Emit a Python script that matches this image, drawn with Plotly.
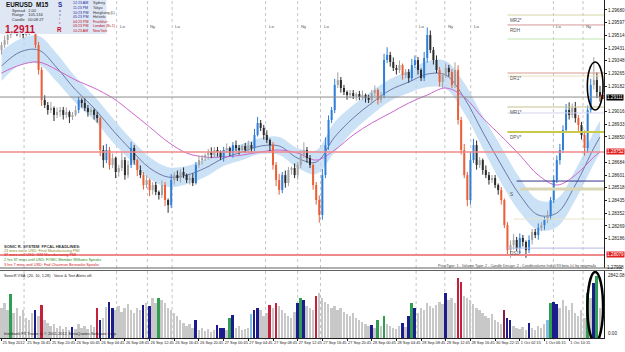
import plotly.graph_objects as go

# ---------------- DATA ----------------
closes = [1.29451,1.29484,1.29516,1.29549,1.29562,1.29529,1.29549,1.29516,1.29536,1.29582,
 1.29562,1.29451,1.29288,1.29092,1.29059,1.29026,1.29039,1.28994,1.29013,1.29026,
 1.28994,1.29013,1.28981,1.28994,1.29026,1.29092,1.29072,1.29039,1.29013,1.29026,
 1.28994,1.28974,1.28765,1.28699,1.28765,1.28667,1.28712,1.28621,1.28647,1.28699,
 1.28601,1.28667,1.28778,1.28699,1.28634,1.28601,1.28536,1.28569,1.28503,1.28536,
 1.28490,1.28471,1.28536,1.28438,1.28405,1.28569,1.28601,1.28582,1.28621,1.28601,
 1.28569,1.28582,1.28549,1.28667,1.28699,1.28712,1.28732,1.28752,1.28732,1.28765,
 1.28752,1.28719,1.28765,1.28778,1.28745,1.28797,1.28778,1.28765,1.28791,1.28765,
 1.28797,1.28778,1.28863,1.28941,1.28909,1.28863,1.28830,1.28797,1.28667,1.28569,
 1.28503,1.28601,1.28549,1.28634,1.28647,1.28601,1.28667,1.28732,1.28765,1.28712,
 1.28667,1.28536,1.28438,1.28340,1.28601,1.28797,1.28961,1.29026,1.29190,1.29222,
 1.29170,1.29144,1.29124,1.29137,1.29118,1.29131,1.29111,1.29124,1.29105,1.29092,
 1.29137,1.29157,1.29092,1.29124,1.29353,1.29386,1.29340,1.29301,1.29288,1.29320,
 1.29255,1.29274,1.29235,1.29320,1.29353,1.29288,1.29235,1.29366,1.29516,1.29418,
 1.29353,1.29288,1.29209,1.29255,1.29301,1.29274,1.29190,1.29288,1.28961,1.28765,
 1.28601,1.28438,1.28699,1.28797,1.28667,1.28699,1.28634,1.28601,1.28569,1.28582,
 1.28536,1.28503,1.28438,1.28274,1.28111,1.28144,1.28177,1.28124,1.28190,1.28164,
 1.28111,1.28177,1.28229,1.28209,1.28255,1.28274,1.28307,1.28340,1.28438,1.28569,
 1.28699,1.28765,1.28896,1.29026,1.28994,1.29039,1.28974,1.28928,1.28863,1.28778,
 1.29026,1.29190,1.29222,1.29144,1.29111]
first_open = 1.29418

wick_up_pips = [2,3,2,1,3,6,2,3,2,4,3,1,2,2,3,2,4,1,3,2,
 2,3,1,2,3,2,1,3,2,2,1,2,1,3,4,2,3,1,2,5,
 2,3,4,2,1,3,2,3,1,2,2,1,3,2,1,4,2,3,2,3,
 1,2,3,2,3,2,1,2,3,2,2,1,2,3,1,2,3,2,1,2,
 3,2,4,4,2,2,3,1,2,2,4,2,3,2,1,3,2,3,5,2,
 2,1,2,3,4,5,3,2,4,5,2,2,1,2,2,1,2,3,1,2,
 2,3,1,2,4,5,2,3,2,3,1,2,2,4,3,2,1,4,5,3,
 2,3,2,1,3,2,2,5,3,2,4,2,5,4,3,2,1,3,2,2,
 2,1,2,1,2,3,4,2,3,2,1,3,2,2,3,2,2,3,2,3,
 3,4,3,4,5,3,4,2,2,3,3,4,15,5,4]
wick_dn_pips = [3,2,3,2,1,2,3,2,1,2,3,2,3,4,2,3,2,4,2,3,
 3,2,4,2,1,2,3,2,3,2,3,3,4,5,2,3,2,4,3,2,
 3,2,2,3,4,2,3,2,4,3,2,3,2,4,5,2,3,2,3,2,
 2,3,2,1,2,3,2,3,2,2,3,2,3,2,2,3,2,3,2,2,
 2,3,2,1,2,3,2,4,3,4,3,2,3,2,3,2,3,2,2,3,
 2,3,3,5,3,2,3,2,2,2,3,2,3,2,2,3,2,2,3,2,
 3,2,3,2,2,2,3,2,3,2,3,2,3,2,2,3,2,2,3,2,
 3,2,3,4,2,3,2,2,3,3,2,4,3,2,3,2,3,2,3,2,
 2,3,3,2,3,5,3,2,4,3,5,2,3,2,3,2,3,2,3,2,
 2,3,2,2,3,2,3,4,3,5,3,2,3,4,3]

high_volume_bars = [9,11,12,13,25,32,34,35,42,44,46,48,53,55,63,72,75,82,83,88,89,90,91,
 101,102,103,104,105,106,107,108,122,124,125,130,133,134,137,138,142,146,148,149,150,
 151,152,153,162,163,164,168,171,174,176,178,179,180,181,182,183,187,189,190,191]

volumes = [1272,1484,1187,1866,1060,1272,933,1187,848,763,
 1060,1187,933,1399,763,636,509,594,424,509,
 382,466,339,466,382,594,424,509,382,551,
 466,1272,763,848,1314,1526,1272,1187,1357,1102,
 1272,1442,1187,1060,1272,1187,1399,1484,1357,1696,
 1484,1696,1611,1484,1272,1187,1060,933,763,636,
 509,594,424,763,339,424,297,382,254,339,
 551,424,424,339,848,975,424,509,339,382,
 424,1018,1187,1272,1187,933,1060,1399,1272,1484,
 1357,1187,1060,933,848,1102,1484,1696,1611,1357,
 1272,1187,1781,1908,1696,1526,1442,1272,1357,1187,
 1272,1102,1018,933,1060,848,763,678,594,509,
 551,424,763,509,933,594,509,424,382,509,
 636,466,933,1484,1272,1060,1272,1187,1484,1357,
 1272,1399,1526,1442,1908,1611,1696,1484,2544,2374,
 1781,1696,1611,1442,1272,1187,1060,933,848,1018,
 763,678,594,1187,848,763,509,424,382,466,
 339,636,424,339,509,424,594,763,1484,1526,
 1442,1272,1611,1357,1187,1484,1060,933,1187,848,
 1908,1696,2332,2629,1272]
volume_signal = {3:'g',11:'n',13:'r',23:'n',31:'r',32:'n',35:'n',36:'n',46:'n',48:'n',51:'g',
 63:'n',70:'n',71:'n',72:'n',74:'g',75:'n',81:'t',82:'n',83:'n',87:'r',89:'r',96:'n',
 97:'g',98:'n',102:'r',120:'n',122:'g',124:'g',130:'n',132:'n',133:'g',134:'n',144:'n',
 148:'r',149:'r',163:'m',164:'n',165:'n',171:'n',177:'t',178:'g',179:'n',180:'n',
 190:'g',192:'n',193:'g'}
volume_max = 2842.08

# moving averages, sampled at bar indices
ma_bars = [0,6,12,18,24,30,36,42,48,54,60,66,72,78,84,90,96,102,108,114,120,126,
 132,138,144,150,156,162,168,174,180,186,192,194]
ema34_close = [1.29314,1.29405,1.29418,1.29301,1.29157,1.29039,1.28896,1.28765,1.28647,
 1.28588,1.28601,1.28647,1.28712,1.28752,1.28791,1.28791,1.28712,1.28686,1.28850,
 1.28974,1.29072,1.29157,1.29209,1.29261,1.29255,1.29105,1.28882,1.28667,1.28471,
 1.28340,1.28353,1.28536,1.28778,1.28850]
band_halfwidth = [0.00098,0.00085,0.00092,0.00092,0.00085,0.00078,0.00078,0.00072,0.00072,
 0.00065,0.00059,0.00059,0.00052,0.00052,0.00052,0.00059,0.00065,0.00078,0.00098,
 0.00085,0.00078,0.00072,0.00072,0.00085,0.00092,0.00098,0.00105,0.00118,0.00111,
 0.00098,0.00092,0.00098,0.00105,0.00105]
ema89_close = [1.29268,1.29320,1.29340,1.29288,1.29222,1.29170,1.29105,1.29013,1.28915,
 1.28817,1.28745,1.28719,1.28719,1.28732,1.28752,1.28765,1.28745,1.28699,1.28765,
 1.28863,1.28941,1.29006,1.29072,1.29124,1.29170,1.29111,1.28974,1.28856,1.28732,
 1.28601,1.28536,1.28601,1.28719,1.28752]

# horizontal levels
full_levels = {"price_line": 1.29111, "level_red_1": 1.28752, "level_red_2": 1.28079}
pivot_levels = [("MR2*", 1.29647, 164), ("RDH", 1.29582, 164), ("", 1.29490, 164),
 ("DR1*", 1.29268, 164), ("", 1.29248, 164), ("MR1*", 1.29046, 164), ("", 1.29007, 164),
 ("DPV*", 1.28882, 164), ("", 1.28562, 167), ("S", 1.28510, 168), ("", 1.28314, 166),
 ("DS1*", 1.28124, 164)]
pivot_colors = ["#d6d6a8", "#d49a9a", "#bfe6b0", "#d99a8e", "#e6dfb8", "#c4c28c", "#d4d4f0",
 "#c9c94a", "#34348a", "#d8d6b4", "#e6e4cc", "#b8b8e6"]
pivot_widths = [1, 1, 1, 1, 1, 1, 1, 2, 1, 3, 1, 1]

price_ticks = [1.29680,1.29597,1.29514,1.29431,1.29348,1.29265,1.29182,1.29099,1.29016,
 1.28933,1.28850,1.28767,1.28684,1.28601,1.28518,1.28435,1.28352,1.28269,1.28186,1.28103]
time_labels = ["25 Sep 2012","25 Sep 16:45","25 Sep 20:45","26 Sep 00:45","26 Sep 04:45",
 "26 Sep 08:45","26 Sep 12:45","26 Sep 16:45","26 Sep 20:45","27 Sep 00:45","27 Sep 04:45",
 "27 Sep 08:45","27 Sep 12:45","27 Sep 16:45","27 Sep 20:45","28 Sep 00:45","28 Sep 04:45",
 "28 Sep 08:45","28 Sep 12:45","28 Sep 16:45","30 Sep 22:15","1 Oct 02:15","1 Oct 06:15",
 "1 Oct 10:15"]
time_label_bars = [8 * k for k in range(len(time_labels))]
session_bars = [7.3, 37.3, 47.3, 55.3, 85.6, 96.0, 103.4, 134.4, 143.7, 152.1, 178.9, 188.5]
# first session label sits under the info panel, so it is not shown
session_names = ["", "Lo", "Ny", "Lo", "Lo", "Ny", "Lo", "Lo", "Ny", "Lo", "Lo", "Ny"]

headlines = [("SONIC R. SYSTEM  FFCAL HEADLINES:", "#333333"),
 ("23 mins since USD: Final Manufacturing PMI", "#8a8a20"),
 ("37 mins until USD: ISM Manufacturing PMI", "#d02020"),
 ("2 hrs 37 mins until USD: FOMC Member Williams Speaks", "#208a20"),
 ("3 hrs 7 mins until USD: Fed Chairman Bernanke Speaks", "#d02020")]
clock_times = ["12:23 AM", "11:23 PM", "10:23 PM", "05:23 PM", "04:23 PM", "03:23 PM", "10:23 AM"]
clock_cities = ["Sydney", "Tokyo", "Hongkong (L)", "Helsinki", "Frankfurt", "London (B+1)", "NewYork"]

# ---------------- LAYOUT HELPERS ----------------
W, H = 625, 352
PW, PH = 607, 340          # plot area in px
X0, X1 = -0.5, 195.3
PRICE_TOP, PRICE_BOT = 1.29745, 1.27994
FONT = "Liberation Sans"

def px(xp):
    return xp / PW

def py(yp):
    return (PH - yp) / PH

n = len(closes)
opens = [first_open] + closes[:-1]
pip = 0.0001
highs = [max(o, c) + u * pip for o, c, u in zip(opens, closes, wick_up_pips)]
lows = [min(o, c) - d * pip for o, c, d in zip(opens, closes, wick_dn_pips)]
hv = set(high_volume_bars)

groups = {"blue": "#2f7ed8", "red": "#ea5f38", "gray": "#a3a3a3", "black": "#2b2b2b"}
members = {k: [] for k in groups}
for i in range(n):
    up = closes[i] >= opens[i]
    if i in hv:
        members["blue" if up else "red"].append(i)
    else:
        members["gray" if up else "black"].append(i)

fig = go.Figure()

# dragon band
band_hi = [m + h for m, h in zip(ema34_close, band_halfwidth)]
band_lo = [m - h for m, h in zip(ema34_close, band_halfwidth)]
fig.add_trace(go.Scatter(x=ma_bars, y=band_lo, mode="lines", line=dict(width=0, shape="spline"),
                         hoverinfo="skip", showlegend=False))
fig.add_trace(go.Scatter(x=ma_bars, y=band_hi, mode="lines", line=dict(width=0, shape="spline"),
                         fill="tonexty", fillcolor="rgba(185,215,243,0.75)", hoverinfo="skip",
                         showlegend=False))
fig.add_trace(go.Scatter(x=ma_bars, y=ema34_close, mode="lines",
                         line=dict(color="#6c7aa6", width=1, shape="spline"), showlegend=False))
fig.add_trace(go.Scatter(x=ma_bars, y=ema89_close, mode="lines",
                         line=dict(color="#cc66cc", width=1, shape="spline"), showlegend=False))

# candles
for g, col in groups.items():
    wx, wy, bx, by = [], [], [], []
    for i in members[g]:
        wx += [i, i, None]
        wy += [lows[i], highs[i], None]
        lo_b, hi_b = min(opens[i], closes[i]), max(opens[i], closes[i])
        if hi_b - lo_b < 0.00006:
            hi_b = lo_b + 0.00006
        bx += [i, i, None]
        by += [lo_b, hi_b, None]
    fig.add_trace(go.Scatter(x=wx, y=wy, mode="lines", line=dict(color=col, width=1),
                             showlegend=False, hoverinfo="skip"))
    fig.add_trace(go.Scatter(x=bx, y=by, mode="lines", line=dict(color=col, width=2),
                             showlegend=False, hoverinfo="skip"))

# current price marker
fig.add_trace(go.Scatter(x=[n - 0.2], y=[closes[-1]], mode="markers",
                         marker=dict(symbol="square", size=4, color="#e04020"),
                         showlegend=False, hoverinfo="skip"))

# volume
vcol = {"g": "#2f9e50", "n": "#1c1c8c", "r": "#c8203c", "m": "#8a2040", "t": "#80bce4"}
vol_colors = [vcol.get(volume_signal.get(i, ""), "#c8c8c8") for i in range(n)]
fig.add_trace(go.Bar(x=list(range(n)), y=volumes, marker=dict(color=vol_colors, line=dict(width=0)),
                     width=0.62, yaxis="y2", showlegend=False, hoverinfo="skip"))

shapes = []
for b in session_bars:
    shapes.append(dict(type="line", xref="x", yref="paper", x0=b, x1=b, y0=0, y1=1,
                       line=dict(color="#c4c4c4", width=1, dash="dot"), layer="below"))
shapes.append(dict(type="line", xref="paper", yref="y", x0=0, x1=1, y0=full_levels["price_line"],
                   y1=full_levels["price_line"], line=dict(color="#8c8c8c", width=1)))
for k in ("level_red_1", "level_red_2"):
    shapes.append(dict(type="line", xref="paper", yref="y", x0=0, x1=1, y0=full_levels[k],
                       y1=full_levels[k], line=dict(color="#f08a8a", width=1.3 if k == "level_red_1" else 2)))
annotations = []
for (name, lvl, start), col, wd in zip(pivot_levels, pivot_colors, pivot_widths):
    shapes.append(dict(type="line", xref="x", yref="y", x0=start, x1=X1, y0=lvl, y1=lvl,
                       line=dict(color=col, width=wd)))
    if name:
        annotations.append(dict(x=164.2, y=lvl, xref="x", yref="y", text=name, showarrow=False,
                                xanchor="left", yanchor="top", yshift=-1,
                                font=dict(family=FONT, size=4.6, color="#555555")))
shapes.append(dict(type="circle", xref="x", yref="y", x0=189.9, x1=195.0, y0=1.29026, y1=1.29340,
                   line=dict(color="black", width=1.6)))
shapes.append(dict(type="circle", xref="x", yref="y2", x0=189.9, x1=195.0, y0=-170, y1=2800,
                   line=dict(color="black", width=2.5)))
for yp in (268, 270.5):
    shapes.append(dict(type="line", xref="paper", yref="paper", x0=0, x1=W / PW, y0=py(yp), y1=py(yp),
                       line=dict(color="#606060", width=1)))
shapes.append(dict(type="rect", xref="paper", yref="paper", x0=0, x1=px(107), y0=py(34), y1=1,
                   fillcolor="#dfe6f4", line=dict(width=0)))

def ann(xp, yp, text, size=4.5, color="#222222", bold=False, anchor="left"):
    annotations.append(dict(x=px(xp), y=py(yp), xref="paper", yref="paper", showarrow=False,
                            xanchor=anchor, yanchor="middle", borderpad=0,
                            text=("<b>%s</b>" % text) if bold else text,
                            font=dict(family=FONT, size=size, color=color)))

ann(5, 5, "EURUSD  M15", 6.3, "#101010", True)
ann(11, 10.5, "Spread   2.00", 4.0, "#303030")
ann(11, 14.8, "Range    105.134", 4.0, "#303030")
ann(11, 19.1, "Candle   00:08:27", 4.0, "#303030")
ann(4, 29.3, "%.4f" % closes[-1], 10, "#c8102e", True)
ann(60, 5, "S", 6.3, "#1a2a9a", True, "center")
for j, (ch, c) in enumerate(zip("onic", ["#3040c0", "#6050c0", "#b03060", "#c01020"])):
    ann(60, 10.5 + j * 4.2, ch, 3.5, c, False, "center")
ann(60, 29, "R", 6.3, "#c8102e", True, "center")
for j, (t, c) in enumerate(zip(clock_times, clock_cities)):
    colr = "#1a2aa0" if j < 4 else "#c01020"
    ann(72, 3.5 + j * 4.6, t, 3.6, colr)
    ann(92, 3.5 + j * 4.6, c, 3.6, "#303030" if j < 4 else "#c01020")

for j, (t, c) in enumerate(headlines):
    ann(3, 246 + j * 4.7, t, 3.8 if j else 4.0, c, j == 0)
ann(600, 265.5, "PriceType: 1 - Volume Type: 2 - Candle Design: 2 - Candlevolume Indi 0.93 beta (c) by enigma4x",
    3.7, "#444444", anchor="right")
ann(3, 275, "SonicR VSA  (20, 10, 1.28)   Voice & Text Alerts off.", 3.9, "#222222")
ann(3, 333, "Interbank FX Trader 4, \u00a9 2001-2012, MetaQuotes Software Corp.", 3.9, "#222222")

for b, name in zip(session_bars, session_names):
    if name:
        annotations.append(dict(x=b, y=py(22), xref="x", yref="paper", text=name, showarrow=False,
                                xanchor="left", xshift=1, font=dict(family=FONT, size=4.3, color="#555555")))

marked = [(full_levels["price_line"], "#000000"), (full_levels["level_red_1"], "#e02020"),
          (full_levels["level_red_2"], "#e02020")]
for lvl, bg in marked + [(PRICE_BOT + 0.00004, None)]:
    d = dict(x=1, y=lvl, xref="paper", yref="y", text="%.5f" % lvl, showarrow=False,
             xanchor="left", xshift=2, borderpad=0,
             font=dict(family=FONT, size=4.6, color="white" if bg else "#222"))
    if bg:
        d["bgcolor"] = bg
    annotations.append(d)
annotations.append(dict(x=1, y=volume_max, xref="paper", yref="y2", text="%.2f" % volume_max,
                        showarrow=False, xanchor="left", xshift=2, yanchor="top",
                        font=dict(family=FONT, size=4.6, color="#222")))
annotations.append(dict(x=1, y=0, xref="paper", yref="y2", text="0.00",
                        showarrow=False, xanchor="left", xshift=2, yanchor="bottom",
                        font=dict(family=FONT, size=4.6, color="#222")))

shown_ticks = [t for t in price_ticks if all(abs(t - m) > 0.00045 for m, _ in marked)]

fig.update_layout(
    width=W, height=H, margin=dict(l=0, r=W - PW, t=0, b=H - PH),
    plot_bgcolor="white", paper_bgcolor="white", showlegend=False,
    shapes=shapes, annotations=annotations, bargap=0,
    xaxis=dict(range=[X0, X1], anchor="y2", showgrid=False, zeroline=False, showline=True,
               linecolor="#202020", linewidth=1, tickvals=time_label_bars, ticktext=time_labels,
               ticks="outside", ticklen=2, tickcolor="#202020", tickangle=0,
               ticklabelposition="outside right",
               tickfont=dict(family=FONT, size=3.9, color="#222222")),
    yaxis=dict(domain=[py(268), 1], range=[PRICE_BOT, PRICE_TOP], side="right", showgrid=False,
               zeroline=False, showline=True, linecolor="#202020", linewidth=1,
               tickvals=shown_ticks, ticktext=["%.5f" % v for v in shown_ticks], ticks="outside",
               ticklen=2, tickcolor="#202020", tickfont=dict(family=FONT, size=4.6, color="#222222")),
    yaxis2=dict(domain=[py(338), py(271)], range=[0, volume_max], side="right", showgrid=False,
                zeroline=False, showline=True, linecolor="#202020", linewidth=1,
                showticklabels=False, ticks=""),
)

fig.write_html("out.html")
